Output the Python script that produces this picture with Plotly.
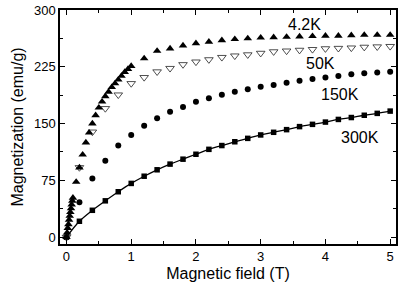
import plotly.graph_objects as go

# 4.2K (filled triangles)
x_4k = [0, 0.01, 0.02, 0.03, 0.04, 0.05, 0.06, 0.07, 0.08, 0.09, 0.1,
        0.15, 0.2, 0.25, 0.3, 0.35, 0.4, 0.45, 0.5, 0.55, 0.6, 0.65, 0.7, 0.75,
        0.8, 0.85, 0.9, 0.95, 1.0,
        1.2, 1.4, 1.6, 1.8, 2.0, 2.2, 2.4, 2.6, 2.8, 3.0, 3.2, 3.4, 3.6, 3.8,
        4.0, 4.2, 4.4, 4.6, 4.8, 5.0]
m_4k = [0, 6, 12, 17, 23, 28, 33, 38, 43, 48, 52,
        73, 92, 109, 125, 138, 150, 161, 171, 179, 186, 192, 198, 203,
        208, 213, 218, 222, 226,
        236, 246, 249, 253, 256, 258, 260, 261.5, 262.5, 263.5, 264, 264.5, 265, 265.5,
        266, 266, 266.5, 267, 267, 267]

# 50K (open inverted triangles)
x_50k = [0, 0.2, 0.4, 0.6, 0.8, 1.0, 1.2, 1.4, 1.6, 1.8, 2.0, 2.2, 2.4, 2.6, 2.8,
         3.0, 3.2, 3.4, 3.6, 3.8, 4.0, 4.2, 4.4, 4.6, 4.8, 5.0]
m_50k = [0, 92, 139, 170, 188, 203, 211, 218.5, 223, 228, 231.5, 234.5, 237.5, 239.5, 241,
         243, 245, 246, 247, 248, 249, 249.5, 250, 251, 251.5, 252]

# 150K (filled circles)
x_150k = [0, 0.2, 0.4, 0.6, 0.8, 1.0, 1.2, 1.4, 1.6, 1.8, 2.0, 2.2, 2.4, 2.6, 2.8,
          3.0, 3.2, 3.4, 3.6, 3.8, 4.0, 4.2, 4.4, 4.6, 4.8, 5.0]
m_150k = [0, 46, 77.5, 101, 121, 135, 147, 157, 165.5, 172, 179, 183.5, 188, 192, 195.5,
          198.5, 201, 204, 206.5, 209, 211, 213, 215, 216.5, 217.5, 218.5]

# 300K (filled squares + fit line)
x_300k = [0, 0.2, 0.4, 0.6, 0.8, 1.0, 1.2, 1.4, 1.6, 1.8, 2.0, 2.2, 2.4, 2.6, 2.8,
          3.0, 3.2, 3.4, 3.6, 3.8, 4.0, 4.2, 4.4, 4.6, 4.8, 5.0]
m_300k = [0, 21, 35.5, 48, 60, 71, 80.5, 89, 96.5, 103, 109.5, 116, 121, 126, 130.5,
          135, 138.5, 142, 146, 149, 152, 155.5, 158, 161, 163.5, 166.5]

labels = ["4.2K", "50K", "150K", "300K"]
label_x = [3.68, 3.93, 4.22, 4.53]
label_y = [281, 230, 188, 132]

font = "Liberation Sans, Arial, sans-serif"

fig = go.Figure()
fig.add_trace(go.Scatter(x=x_300k, y=m_300k, mode="lines", line=dict(color="black", width=1.3, shape="spline"),
                         hoverinfo="skip"))
fig.add_trace(go.Scatter(x=x_300k, y=m_300k, mode="markers",
                         marker=dict(symbol="square", size=5.5, color="black")))
fig.add_trace(go.Scatter(x=x_150k, y=m_150k, mode="markers",
                         marker=dict(symbol="circle", size=6, color="black")))
fig.add_trace(go.Scatter(x=x_50k, y=m_50k, mode="markers",
                         marker=dict(symbol="triangle-down-open", size=7.5, color="#222",
                                     line=dict(width=0.8))))
fig.add_trace(go.Scatter(x=x_4k, y=m_4k, mode="markers",
                         marker=dict(symbol="triangle-up", size=7.5, color="black")))

for t, lx, ly in zip(labels, label_x, label_y):
    fig.add_annotation(x=lx, y=ly, text=t, showarrow=False,
                       font=dict(family=font, size=16, color="black"))

axis_common = dict(showline=True, linecolor="black", linewidth=1.5, mirror="ticks",
                   ticks="inside", ticklen=5, tickwidth=1.2, tickcolor="black",
                   showgrid=False, zeroline=False,
                   tickfont=dict(family=font, size=13, color="black"))

fig.update_xaxes(range=[-0.1, 5.09], tickvals=[0, 1, 2, 3, 4, 5],
                 minor=dict(ticks="inside", ticklen=3, dtick=0.5, tickwidth=1.2, tickcolor="black"),
                 title=dict(text="Magnetic field (T)", font=dict(family=font, size=16, color="black"),
                            standoff=4),
                 **axis_common)
fig.update_yaxes(range=[-9, 300], tickvals=[0, 75, 150, 225, 300],
                 minor=dict(ticks="inside", ticklen=3, dtick=37.5, tick0=0, tickwidth=1.2, tickcolor="black"),
                 title=dict(text="Magnetization (emu/g)", font=dict(family=font, size=16, color="black"),
                            standoff=6),
                 **axis_common)

fig.update_layout(width=415, height=297, margin=dict(l=60, r=19, t=10, b=53, autoexpand=False),
                  paper_bgcolor="white", plot_bgcolor="white", showlegend=False)

fig.write_html("out.html", config={"displayModeBar": False},
               post_script="document.body.style.margin='0';")
